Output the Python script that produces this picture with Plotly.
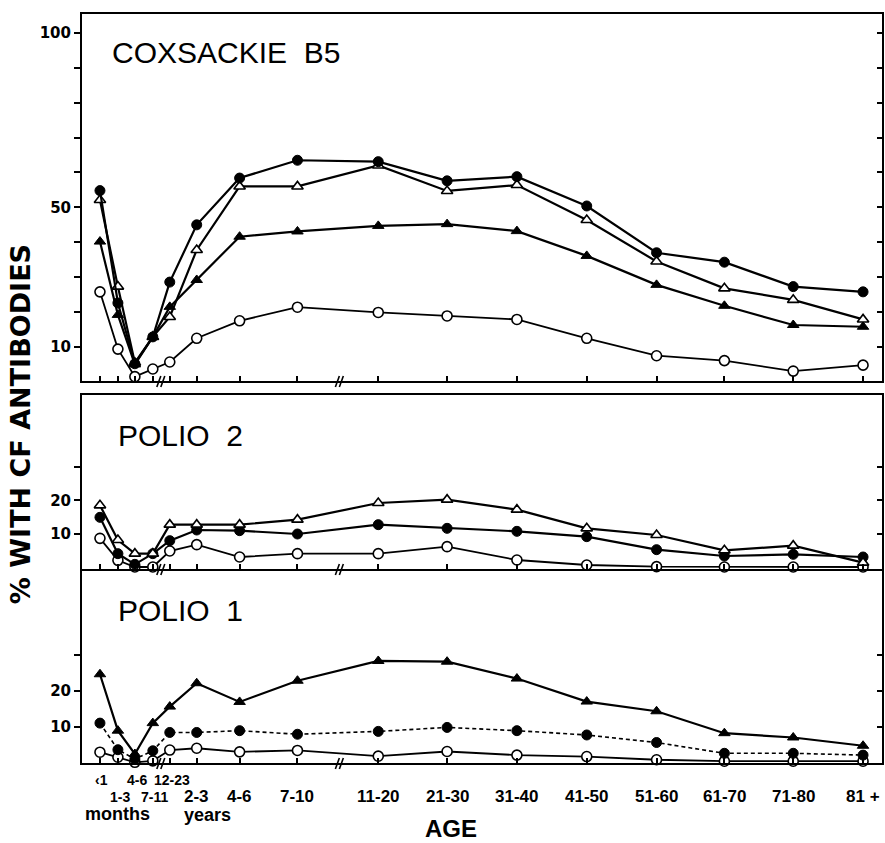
import plotly.graph_objects as go

# ---------------- data ----------------
age_labels = ["\u20391", "1-3", "4-6", "7-11", "12-23", "2-3", "4-6", "7-10",
              "11-20", "21-30", "31-40", "41-50", "51-60", "61-70", "71-80", "81 +"]
# position of each age group along the (non-linear) age axis
age_axis_pos = [100, 118, 135, 153, 170, 197, 240, 298,
                379, 448, 518, 588, 658, 726, 795, 865]

cox_filled_circle = [54.8, 22.6, 5.2, 12.9, 28.6, 45.0, 58.4, 63.5, 63.1, 57.6, 58.8, 50.4, 37.0, 34.3, 27.3, 25.8]
cox_open_triangle = [52.1, 27.3, 5.5, 12.9, 18.6, 37.8, 56.0, 56.0, 62.0, 54.7, 56.4, 46.4, 34.5, 26.8, 23.5, 17.9]
cox_filled_triangle = [40.2, 19.2, 5.0, 12.9, 21.5, 29.2, 41.6, 43.1, 44.7, 45.2, 43.2, 36.1, 27.8, 21.8, 16.3, 15.8]
cox_open_circle = [25.8, 9.4, 1.5, 3.7, 5.7, 12.5, 17.5, 21.4, 19.9, 18.9, 17.9, 12.5, 7.5, 6.1, 3.1, 4.8]

p2_open_triangle = [18.5, 8.1, 4.0, 4.0, 12.7, 12.7, 12.7, 14.2, 19.2, 20.2, 17.2, 11.6, 9.6, 5.0, 6.4, 1.3]
p2_filled_circle = [14.9, 4.0, 0.8, 4.0, 7.9, 11.1, 10.9, 9.9, 12.7, 11.6, 10.7, 9.1, 5.2, 3.3, 3.8, 3.0]
p2_open_circle = [8.6, 2.0, 0.0, 0.0, 4.8, 6.7, 3.0, 4.0, 4.0, 6.1, 2.1, 0.6, 0.1, 0.0, 0.0, 0.0]

p1_filled_triangle = [24.7, 9.0, 2.5, 11.1, 15.7, 22.2, 17.0, 22.9, 28.4, 28.2, 23.5, 17.1, 14.4, 8.3, 7.1, 4.8]
p1_filled_circle = [11.1, 3.7, 1.1, 3.4, 8.5, 8.5, 9.0, 8.0, 8.8, 9.9, 9.0, 7.8, 5.7, 2.7, 2.7, 2.2]
p1_open_circle = [3.0, 1.6, 0.2, 0.6, 3.6, 4.1, 3.1, 3.5, 1.9, 3.2, 2.2, 1.8, 0.9, 0.5, 0.5, 0.5]

cox_ticks = [10, 20, 30, 40, 50, 60, 70, 80, 90, 100]
cox_tick_text = ["10", "", "", "", "50", "", "", "", "", "100"]
polio_ticks = [10, 20, 30]
polio_tick_text = ["10", "20", ""]

panel_titles = ["COXSACKIE\u00a0\u00a0B5", "POLIO\u00a0\u00a02", "POLIO\u00a0\u00a01"]
y_title = "% WITH CF ANTIBODIES"
x_title = "AGE"

# ---------------- layout helpers ----------------
W, H = 885, 843
L, R, T, B = 82, 884, 14, 763


def fx(px):
    return (px - L) / (R - L)


def fy(py):
    return (B - py) / (B - T)


fig = go.Figure()

styles = {
    "fc": dict(symbol="circle", color="black", line=dict(color="black", width=1)),
    "oc": dict(symbol="circle", color="white", line=dict(color="black", width=1.6)),
    "ft": dict(symbol="triangle-up", color="black", line=dict(color="black", width=1)),
    "ot": dict(symbol="triangle-up", color="white", line=dict(color="black", width=1.6)),
}


def add_series(vals, style, xa, ya, dash="solid", lw=2.2):
    fig.add_trace(go.Scatter(
        x=age_axis_pos, y=vals, mode="lines+markers",
        line=dict(color="black", width=lw, dash=dash),
        marker=dict(size=10, **styles[style]),
        xaxis=xa, yaxis=ya, cliponaxis=False, showlegend=False, hoverinfo="skip"))


# Coxsackie B5 (top)
add_series(cox_open_circle, "oc", "x", "y", lw=1.8)
add_series(cox_filled_triangle, "ft", "x", "y")
add_series(cox_open_triangle, "ot", "x", "y")
add_series(cox_filled_circle, "fc", "x", "y")
# Polio 2 (middle)
add_series(p2_open_circle, "oc", "x2", "y2", lw=1.8)
add_series(p2_filled_circle, "fc", "x2", "y2")
add_series(p2_open_triangle, "ot", "x2", "y2")
# Polio 1 (bottom)
add_series(p1_open_circle, "oc", "x3", "y3", lw=1.8)
add_series(p1_filled_circle, "fc", "x3", "y3", dash="4px,3px", lw=1.6)
add_series(p1_filled_triangle, "ft", "x3", "y3")

# invisible traces to host the right-hand tick axes
for ya, xa in (("y4", "x"), ("y5", "x2"), ("y6", "x3")):
    fig.add_trace(go.Scatter(x=[None], y=[None], xaxis=xa, yaxis=ya,
                             showlegend=False, hoverinfo="skip"))

dom1 = [fy(381), 1.0]
dom2 = [fy(569), fy(395)]
dom3 = [0.0, fy(569)]

tickfont = dict(family="DejaVu Sans", size=15, color="black", weight="bold")


def xaxis(anchor, mirror=True):
    return dict(range=[L, R], domain=[0, 1], anchor=anchor, showgrid=False,
                zeroline=False, showline=True, mirror=mirror, linecolor="black",
                linewidth=2, ticks="inside", ticklen=5, tickwidth=1.5,
                tickcolor="black", tickvals=age_axis_pos, showticklabels=False)


def yaxis(anchor, rng, dom, tv, tt):
    return dict(range=rng, domain=dom, anchor=anchor, showgrid=False,
                zeroline=False, showline=True, mirror=True, linecolor="black",
                linewidth=2, ticks="outside", ticklen=6, tickwidth=1.5,
                tickcolor="black", tickvals=tv, ticktext=tt, tickfont=tickfont)


def yright(over, anchor, rng, tv):
    return dict(range=rng, overlaying=over, anchor=anchor, side="right",
                showgrid=False, zeroline=False, showline=False, ticks="inside",
                ticklen=5, tickwidth=1.5, tickcolor="black", tickvals=tv,
                showticklabels=False)


r1, r2, r3 = [0.26, 105.4], [-0.6, 51.6], [0.0, 54.0]

fig.update_layout(
    width=W, height=H,
    margin=dict(l=L, r=W - R, t=T, b=H - B),
    paper_bgcolor="white", plot_bgcolor="white",
    xaxis=xaxis("y"), xaxis2=xaxis("y2"), xaxis3=xaxis("y3", mirror=False),
    yaxis=yaxis("x", r1, dom1, cox_ticks, cox_tick_text),
    yaxis2=yaxis("x2", r2, dom2, polio_ticks, polio_tick_text),
    yaxis3=yaxis("x3", r3, dom3, polio_ticks, polio_tick_text),
    yaxis4=yright("y", "x", r1, cox_ticks),
    yaxis5=yright("y2", "x2", r2, polio_ticks),
    yaxis6=yright("y3", "x3", r3, polio_ticks),
)

ann = []
# panel titles
for title, py in zip(panel_titles, (53, 435, 610)):
    ann.append(dict(text=title, x=fx(110 if "COX" in title else 116), y=fy(py),
                    xref="paper", yref="paper", xanchor="left", yanchor="middle",
                    showarrow=False,
                    font=dict(family="Liberation Sans", size=30, color="black")))

# y-axis title
ann.append(dict(text="<b>" + y_title + "</b>", x=fx(20), y=fy(424), xref="paper",
                yref="paper", xanchor="center", yanchor="middle", textangle=-90,
                showarrow=False,
                font=dict(family="DejaVu Sans", size=27, color="black")))

# age tick labels
for i, (lab, px) in enumerate(zip(age_labels, age_axis_pos)):
    if i < 5:
        py = 780 if i % 2 == 0 else 797
        size = 14
        px = px + 2
    else:
        py = 796
        size = 17
    ann.append(dict(text="<b>" + lab + "</b>", x=fx(px), y=fy(py), xref="paper",
                    yref="paper", xanchor="center", yanchor="middle",
                    showarrow=False,
                    font=dict(family="Liberation Sans", size=size, color="black")))

for txt, px, py in (("months", 118, 814), ("years", 208, 815)):
    ann.append(dict(text="<b>" + txt + "</b>", x=fx(px), y=fy(py), xref="paper",
                    yref="paper", xanchor="center", yanchor="middle",
                    showarrow=False,
                    font=dict(family="Liberation Sans", size=18, color="black")))

ann.append(dict(text="<b>" + x_title + "</b>", x=fx(452), y=fy(828), xref="paper",
                yref="paper", xanchor="center", yanchor="middle", showarrow=False,
                font=dict(family="Liberation Sans", size=24, color="black")))

fig.update_layout(annotations=ann)

# axis break marks (two short slanted strokes across each age axis)
shapes = []
for axis_py in (381, 569, 763):
    for bx in (160, 339):
        for k in (0, 4):
            shapes.append(dict(type="line", xref="paper", yref="paper",
                               x0=fx(bx - 3 + k), y0=fy(axis_py + 6),
                               x1=fx(bx + 1 + k), y1=fy(axis_py - 5),
                               line=dict(color="black", width=1.6)))
fig.update_layout(shapes=shapes)

fig.write_html("out.html")
